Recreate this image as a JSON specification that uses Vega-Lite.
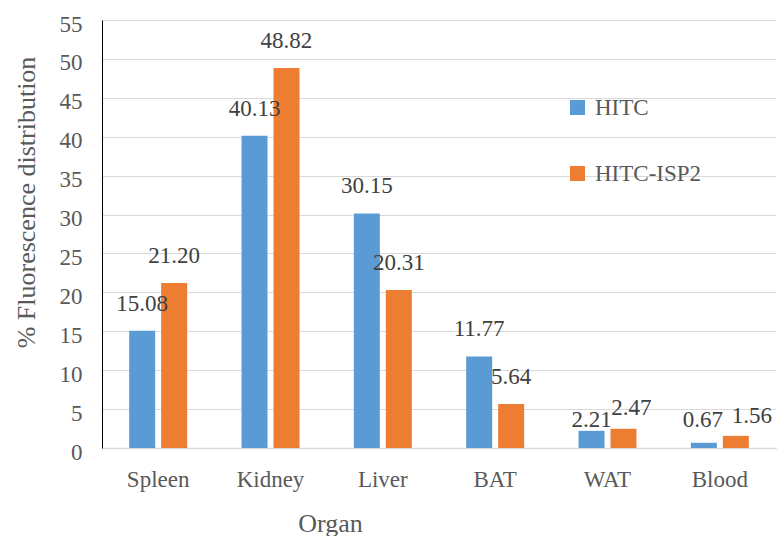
{
  "$schema": "https://vega.github.io/schema/vega-lite/v6.json",
  "width": 674,
  "height": 428,
  "autosize": {"type": "none"},
  "padding": {"left": 102, "top": 20, "right": 3, "bottom": 88},
  "background": "white",
  "data": {
    "values": [
      {"organ": "Spleen", "series": "HITC", "value": 15.08},
      {"organ": "Spleen", "series": "HITC-ISP2", "value": 21.20},
      {"organ": "Kidney", "series": "HITC", "value": 40.13},
      {"organ": "Kidney", "series": "HITC-ISP2", "value": 48.82},
      {"organ": "Liver", "series": "HITC", "value": 30.15},
      {"organ": "Liver", "series": "HITC-ISP2", "value": 20.31},
      {"organ": "BAT", "series": "HITC", "value": 11.77},
      {"organ": "BAT", "series": "HITC-ISP2", "value": 5.64},
      {"organ": "WAT", "series": "HITC", "value": 2.21},
      {"organ": "WAT", "series": "HITC-ISP2", "value": 2.47},
      {"organ": "Blood", "series": "HITC", "value": 0.67},
      {"organ": "Blood", "series": "HITC-ISP2", "value": 1.56}
    ]
  },
  "config": {
    "view": {"stroke": null},
    "font": "Times New Roman, Liberation Serif, DejaVu Serif, serif"
  },
  "encoding": {
    "x": {
      "field": "organ",
      "type": "nominal",
      "sort": ["Spleen", "Kidney", "Liver", "BAT", "WAT", "Blood"],
      "scale": {"paddingInner": 0.484, "paddingOuter": 0.242},
      "axis": {
        "title": "Organ",
        "titleFont": "Times New Roman, Liberation Serif, DejaVu Serif, serif",
        "titleFontSize": 26,
        "titleFontWeight": "normal",
        "titleColor": "#595959",
        "titleX": 228,
        "titleY": 83,
        "titleAlign": "center",
        "titleBaseline": "alphabetic",
        "labelAngle": 0,
        "labelFont": "Times New Roman, Liberation Serif, DejaVu Serif, serif",
        "labelFontSize": 23,
        "labelColor": "#595959",
        "labelPadding": 20,
        "ticks": false,
        "domainColor": "#d9d9d9",
        "domainWidth": 1.5,
        "grid": false
      }
    },
    "xOffset": {
      "field": "series",
      "type": "nominal",
      "scale": {"paddingInner": 0.1875, "paddingOuter": 0}
    },
    "y": {
      "field": "value",
      "type": "quantitative",
      "scale": {"domain": [0, 55], "nice": false},
      "axis": {
        "title": "% Fluorescence distribution",
        "titleFont": "Times New Roman, Liberation Serif, DejaVu Serif, serif",
        "titleFontSize": 26,
        "titleFontWeight": "normal",
        "titleColor": "#595959",
        "titleX": -68,
        "titleY": 182,
        "titleAlign": "center",
        "titleBaseline": "alphabetic",
        "titleAngle": -90,
        "values": [0, 5, 10, 15, 20, 25, 30, 35, 40, 45, 50, 55],
        "labelFont": "Times New Roman, Liberation Serif, DejaVu Serif, serif",
        "labelFontSize": 23,
        "labelColor": "#595959",
        "labelPadding": 20,
        "labelOffset": 4,
        "ticks": false,
        "domainColor": "#000000",
        "domainWidth": 1,
        "grid": true,
        "gridColor": "#d9d9d9",
        "gridWidth": 1.2
      }
    }
  },
  "layer": [
    {
      "mark": {"type": "bar"},
      "encoding": {
        "color": {
          "field": "series",
          "type": "nominal",
          "scale": {"domain": ["HITC", "HITC-ISP2"], "range": ["#5B9BD5", "#ED7D31"]},
          "legend": {
            "title": null,
            "orient": "none",
            "legendX": 464,
            "legendY": 76,
            "symbolType": "square",
            "symbolSize": 225,
            "symbolStrokeWidth": 0,
            "labelFont": "Times New Roman, Liberation Serif, DejaVu Serif, serif",
            "labelFontSize": 23,
            "labelColor": "#595959",
            "labelOffset": 6,
            "rowPadding": 42
          }
        }
      }
    },
    {
      "transform": [{"filter": "datum.organ !== 'WAT' && datum.organ !== 'Blood'"}],
      "mark": {"type": "text", "baseline": "alphabetic", "dy": -20, "fontSize": 23, "color": "#404040", "font": "Times New Roman, Liberation Serif, DejaVu Serif, serif"},
      "encoding": {"text": {"field": "value", "type": "quantitative", "format": ".2f"}}
    },
    {
      "transform": [{"filter": "datum.organ === 'WAT' && datum.series === 'HITC'"}],
      "mark": {"type": "text", "baseline": "alphabetic", "dy": -4, "fontSize": 23, "color": "#404040", "font": "Times New Roman, Liberation Serif, DejaVu Serif, serif"},
      "encoding": {"text": {"field": "value", "type": "quantitative", "format": ".2f"}}
    },
    {
      "transform": [{"filter": "datum.organ === 'WAT' && datum.series === 'HITC-ISP2'"}],
      "mark": {"type": "text", "baseline": "alphabetic", "dx": 8, "dy": -14, "fontSize": 23, "color": "#404040", "font": "Times New Roman, Liberation Serif, DejaVu Serif, serif"},
      "encoding": {"text": {"field": "value", "type": "quantitative", "format": ".2f"}}
    },
    {
      "transform": [{"filter": "datum.organ === 'Blood' && datum.series === 'HITC'"}],
      "mark": {"type": "text", "baseline": "alphabetic", "dx": -1, "dy": -16, "fontSize": 23, "color": "#404040", "font": "Times New Roman, Liberation Serif, DejaVu Serif, serif"},
      "encoding": {"text": {"field": "value", "type": "quantitative", "format": ".2f"}}
    },
    {
      "transform": [{"filter": "datum.organ === 'Blood' && datum.series === 'HITC-ISP2'"}],
      "mark": {"type": "text", "baseline": "alphabetic", "dx": 16, "dy": -13, "fontSize": 23, "color": "#404040", "font": "Times New Roman, Liberation Serif, DejaVu Serif, serif"},
      "encoding": {"text": {"field": "value", "type": "quantitative", "format": ".2f"}}
    }
  ]
}
